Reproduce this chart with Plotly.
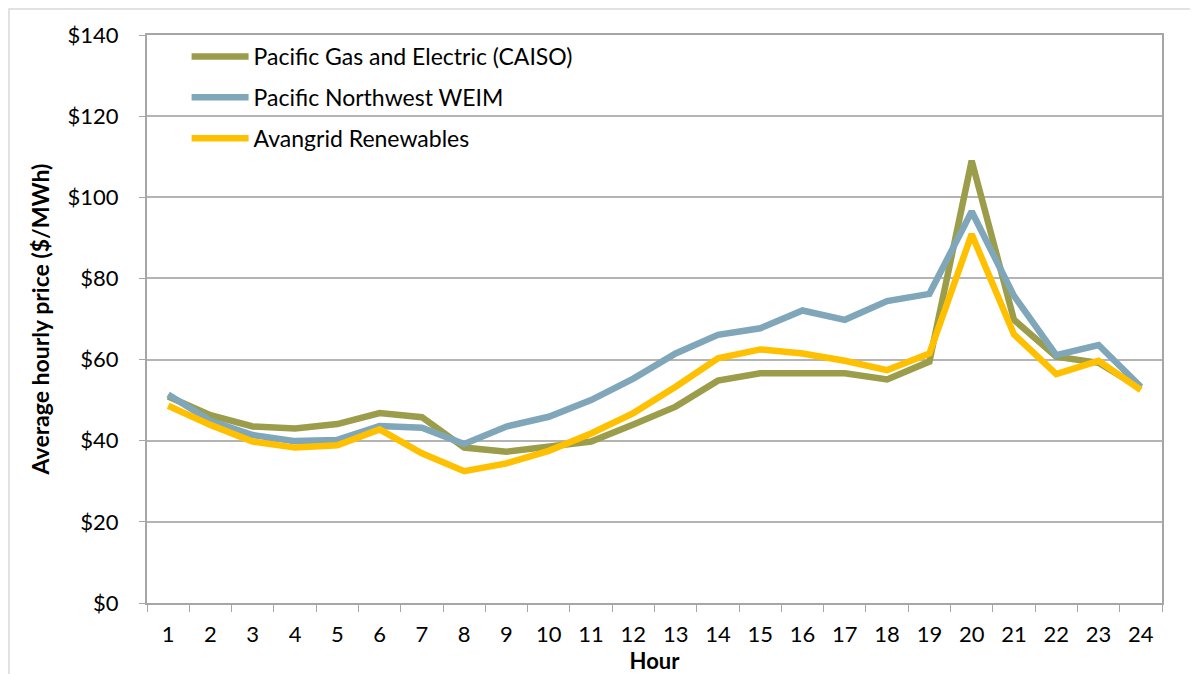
import plotly.graph_objects as go

hours = [str(h) for h in range(1, 25)]
pge_caiso = [50.9, 46.3, 43.5, 43.0, 44.1, 46.8, 45.8, 38.3, 37.3, 38.5, 39.8, 44.0,
             48.4, 54.8, 56.6, 56.6, 56.6, 55.1, 59.5, 109.0, 69.8, 60.7, 59.2, 52.9]
pnw_weim = [51.4, 44.9, 41.4, 39.9, 40.2, 43.6, 43.2, 39.2, 43.5, 45.9, 50.0, 55.3,
            61.5, 66.1, 67.7, 72.1, 69.8, 74.4, 76.2, 96.5, 75.7, 61.1, 63.6, 53.3]
avangrid = [48.6, 43.9, 39.8, 38.3, 38.9, 42.8, 36.9, 32.5, 34.4, 37.5, 41.8, 46.8,
            53.3, 60.3, 62.5, 61.5, 59.7, 57.4, 61.5, 90.9, 66.2, 56.4, 59.7, 52.5]

series_names = ["Pacific Gas and Electric (CAISO)", "Pacific Northwest WEIM", "Avangrid Renewables"]
series_colors = ["#9B9D4A", "#7FA6B9", "#FFC000"]
y_ticks = [0, 20, 40, 60, 80, 100, 120, 140]
y_labels = ["$" + str(v) for v in y_ticks]

FONT = "Lato, Calibri, Carlito, sans-serif"

fig = go.Figure()
for i, (name, vals, col) in enumerate(zip(series_names, [pge_caiso, pnw_weim, avangrid], series_colors)):
    fig.add_trace(go.Scatter(
        x=hours, y=vals, name=name, mode="lines",
        line=dict(color=col, width=6.5), legendgroup=f"g{i}",
    ))

# page has an 8px body margin: plot area spans page x 147..1162, y 35..603
ML, MR, MT, MB = 139, 44, 27, 79
PW = 1198 - ML - MR
PH = 674 - MT - MB

fig.update_layout(
    width=1198, height=674,
    margin=dict(l=ML, r=MR, t=MT, b=MB),
    paper_bgcolor="white", plot_bgcolor="white",
    font=dict(family=FONT, size=22, color="black"),
    showlegend=True,
    legend=dict(
        x=0.039, y=1.0, xanchor="left", yanchor="top",
        bgcolor="rgba(0,0,0,0)", font=dict(family=FONT, size=23, color="black"),
        tracegroupgap=8, itemwidth=57,
    ),
    xaxis=dict(
        type="category", tickson="boundaries", range=[-0.5, 23.5],
        showline=True, linecolor="#A6A6A6", linewidth=2, mirror=True,
        ticks="outside", ticklen=7, tickcolor="#A6A6A6", tickwidth=1,
        showgrid=False, ticklabelstandoff=11,
        tickfont=dict(family=FONT, size=22),
        title=dict(text="<b>Hour</b>", font=dict(family=FONT, size=22), standoff=0),
    ),
    yaxis=dict(
        range=[0, 140], tickvals=y_ticks, ticktext=y_labels,
        showline=True, linecolor="#A6A6A6", linewidth=2, mirror=True,
        ticks="outside", ticklen=6, tickcolor="#A6A6A6",
        showgrid=True, gridcolor="#B4B4B4", gridwidth=1.5,
        zeroline=False, ticklabelstandoff=16,
        tickfont=dict(family=FONT, size=22),
        title=dict(text="<b>Average hourly price ($/MWh)</b>", font=dict(family=FONT, size=23), standoff=12),
    ),
)

# outer chart border
fig.add_shape(type="rect", xref="paper", yref="paper",
              x0=(1 - ML) / PW, x1=1.2, y0=-0.3, y1=1 + (MT - 1) / PH,
              line=dict(color="#D9D9D9", width=1.5), fillcolor="rgba(0,0,0,0)", layer="below")

fig.write_html("out.html")
